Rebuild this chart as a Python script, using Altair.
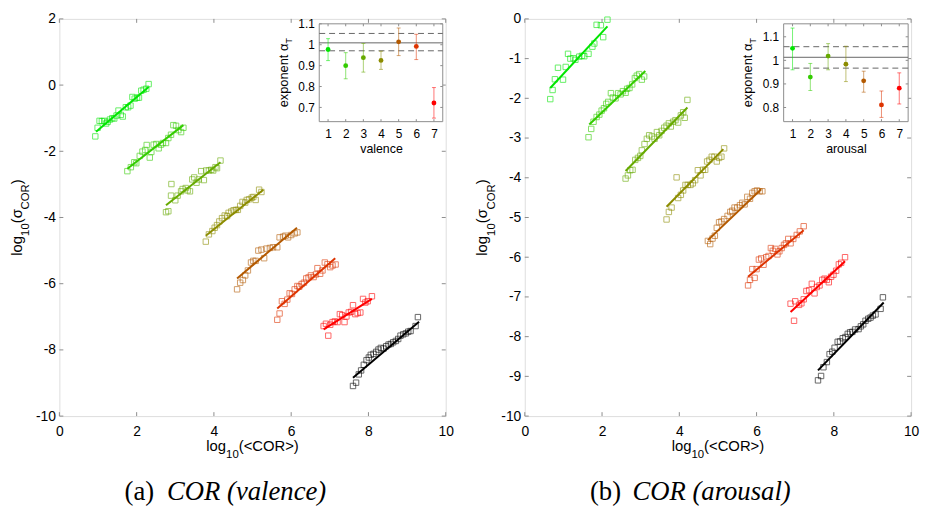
import altair as alt
import pandas as pd

# ---------------- left panel: valence ----------------
val_x1 = [0.93, 0.99, 1.04, 1.10, 1.16, 1.21, 1.25, 1.31, 1.37, 1.42, 1.48, 1.53, 1.59, 1.64, 1.72, 1.78, 1.84, 1.89, 1.95, 2.01, 2.06, 2.12, 2.18, 2.25, 2.31]
val_y1 = [-1.55, -1.29, -1.08, -1.09, -1.08, -1.16, -1.11, -1.04, -1.00, -1.01, -0.92, -0.77, -0.90, -0.95, -0.67, -0.67, -0.62, -0.36, -0.41, -0.38, -0.38, -0.17, -0.14, -0.11, 0.03]
val_x2 = [1.76, 1.85, 1.94, 1.99, 2.08, 2.15, 2.22, 2.26, 2.34, 2.38, 2.44, 2.51, 2.57, 2.63, 2.68, 2.76, 2.82, 2.89, 2.95, 3.02, 3.08, 3.15, 3.21]
val_y2 = [-2.60, -2.48, -2.33, -2.36, -2.14, -2.01, -1.96, -1.81, -2.19, -2.02, -1.80, -1.78, -1.91, -1.80, -1.75, -1.75, -1.60, -1.50, -1.21, -1.23, -1.36, -1.42, -1.29]
val_x3 = [2.76, 2.82, 2.89, 2.90, 3.00, 3.06, 3.15, 3.19, 3.27, 3.32, 3.38, 3.44, 3.49, 3.55, 3.61, 3.67, 3.74, 3.80, 3.87, 3.93, 3.98, 4.04, 4.08, 4.17]
val_y3 = [-3.84, -3.81, -3.34, -2.99, -3.48, -3.34, -3.21, -3.14, -3.11, -3.18, -3.21, -2.85, -2.79, -2.95, -2.85, -2.60, -2.87, -2.58, -2.58, -2.56, -2.58, -2.48, -2.51, -2.28]
val_x4 = [3.79, 3.87, 3.96, 4.02, 4.08, 4.14, 4.21, 4.28, 4.34, 4.38, 4.45, 4.51, 4.57, 4.62, 4.68, 4.74, 4.81, 4.85, 4.91, 4.98, 5.02, 5.08, 5.17, 5.23]
val_y4 = [-4.73, -4.51, -4.41, -4.31, -4.23, -4.12, -4.02, -3.94, -3.96, -3.86, -3.82, -3.78, -3.77, -3.77, -3.65, -3.53, -3.55, -3.47, -3.45, -3.40, -3.38, -3.47, -3.16, -3.23]
val_x5 = [4.60, 4.68, 4.75, 4.81, 4.88, 4.96, 5.02, 5.08, 5.15, 5.23, 5.30, 5.36, 5.45, 5.53, 5.64, 5.70, 5.79, 5.85, 5.92, 6.00, 6.09, 6.16]
val_y5 = [-6.17, -5.97, -5.89, -5.75, -5.60, -5.36, -5.31, -5.31, -5.00, -4.97, -5.23, -4.94, -4.92, -4.90, -4.90, -4.60, -4.58, -4.55, -4.60, -4.53, -4.48, -4.45]
val_x6 = [5.64, 5.70, 5.76, 5.83, 5.90, 5.96, 6.02, 6.09, 6.16, 6.21, 6.27, 6.33, 6.39, 6.45, 6.51, 6.58, 6.64, 6.68, 6.75, 6.81, 6.87, 6.94, 7.01, 7.07, 7.15]
val_y6 = [-7.09, -6.90, -6.53, -6.61, -6.48, -6.29, -6.31, -6.17, -6.07, -6.09, -6.01, -5.97, -5.84, -5.81, -5.75, -5.80, -5.72, -5.53, -5.70, -5.60, -5.36, -5.41, -5.50, -5.45, -5.42]
val_x7 = [6.84, 6.90, 6.96, 7.01, 7.07, 7.13, 7.20, 7.26, 7.32, 7.38, 7.43, 7.49, 7.55, 7.60, 7.66, 7.72, 7.79, 7.86, 7.92, 7.98, 8.09]
val_y7 = [-7.28, -7.21, -7.57, -7.24, -7.16, -7.14, -7.16, -6.92, -6.95, -7.16, -6.99, -6.87, -6.85, -6.65, -6.92, -6.89, -6.87, -6.46, -6.57, -6.53, -6.38]
val_x8 = [7.60, 7.68, 7.75, 7.81, 7.88, 7.95, 8.01, 8.06, 8.13, 8.20, 8.26, 8.32, 8.39, 8.46, 8.52, 8.58, 8.64, 8.71, 8.77, 8.83, 8.90, 8.97, 9.03, 9.09, 9.22, 9.28]
val_y8 = [-9.09, -8.99, -8.74, -8.62, -8.45, -8.31, -8.23, -8.15, -8.12, -8.06, -7.99, -7.94, -7.96, -7.89, -7.84, -7.82, -7.77, -7.73, -7.67, -7.57, -7.53, -7.50, -7.45, -7.43, -7.28, -7.01]

val_fit_x0 = [0.95, 1.76, 2.76, 3.79, 4.60, 5.64, 6.84, 7.60]
val_fit_y0 = [-1.41, -2.53, -3.63, -4.55, -5.84, -6.75, -7.38, -8.84]
val_fit_x1 = [2.31, 3.21, 4.17, 5.28, 6.15, 7.14, 8.09, 9.31]
val_fit_y1 = [-0.06, -1.21, -2.33, -3.16, -4.31, -5.23, -6.46, -7.15]

val_alpha = [0.977, 0.900, 0.938, 0.925, 1.014, 0.992, 0.721]
val_alpha_lo = [0.924, 0.837, 0.869, 0.882, 0.948, 0.929, 0.649]
val_alpha_hi = [1.029, 0.962, 1.006, 0.969, 1.080, 1.050, 0.795]
val_ref = [1.009, 1.054, 0.971]

# ---------------- right panel: arousal ----------------
aro_x1 = [0.66, 0.72, 0.78, 0.86, 0.99, 1.06, 1.12, 1.18, 1.26, 1.31, 1.41, 1.48, 1.54, 1.65, 1.75, 1.80, 1.86, 1.97, 2.03, 2.14]
aro_y1 = [-2.02, -1.79, -1.52, -1.23, -1.53, -1.21, -0.88, -1.00, -0.99, -1.03, -0.95, -0.93, -0.94, -0.88, -0.70, -0.62, -0.15, -0.16, -0.46, -0.02]
aro_x2 = [1.65, 1.72, 1.78, 1.86, 1.93, 1.99, 2.05, 2.11, 2.16, 2.23, 2.28, 2.35, 2.42, 2.48, 2.54, 2.61, 2.65, 2.71, 2.78, 2.85, 2.90, 2.96, 3.03, 3.09]
aro_y2 = [-2.98, -2.77, -2.59, -2.47, -2.41, -2.31, -2.25, -2.14, -2.09, -1.87, -1.98, -2.00, -1.87, -1.90, -1.82, -1.86, -1.76, -1.74, -1.65, -1.49, -1.43, -1.39, -1.53, -1.45]
aro_x3 = [2.61, 2.67, 2.73, 2.79, 2.86, 2.93, 2.99, 3.03, 3.10, 3.16, 3.22, 3.29, 3.36, 3.42, 3.48, 3.54, 3.61, 3.67, 3.73, 3.78, 3.84, 3.90, 3.97, 4.04, 4.10, 4.14, 4.21]
aro_y3 = [-4.02, -3.94, -3.81, -3.80, -3.55, -3.50, -3.45, -3.31, -3.15, -3.02, -2.93, -2.96, -3.02, -2.85, -2.93, -2.82, -2.74, -2.69, -2.63, -2.71, -2.59, -2.55, -2.61, -2.43, -2.35, -2.49, -2.04]
aro_x4 = [3.67, 3.73, 3.80, 3.93, 3.97, 4.04, 4.10, 4.16, 4.22, 4.29, 4.35, 4.41, 4.48, 4.55, 4.61, 4.67, 4.72, 4.78, 4.84, 4.91, 4.97, 5.03, 5.09, 5.16]
aro_y4 = [-5.05, -4.86, -4.75, -3.99, -4.51, -4.43, -4.32, -4.18, -4.18, -4.18, -4.14, -4.06, -3.81, -3.94, -3.80, -3.80, -3.59, -3.55, -3.47, -3.47, -3.59, -3.50, -3.47, -3.26]
aro_x5 = [4.74, 4.80, 4.86, 4.92, 4.97, 5.03, 5.09, 5.16, 5.25, 5.32, 5.37, 5.43, 5.50, 5.57, 5.63, 5.69, 5.76, 5.83, 5.89, 5.95, 6.01, 6.08, 6.15]
aro_y5 = [-5.59, -5.67, -5.53, -5.46, -5.26, -5.12, -5.10, -5.04, -4.96, -4.86, -4.83, -4.75, -4.75, -4.69, -4.63, -4.67, -4.48, -4.53, -4.38, -4.34, -4.32, -4.34, -4.34]
aro_x6 = [5.78, 5.83, 5.89, 5.95, 6.00, 6.06, 6.12, 6.18, 6.25, 6.31, 6.37, 6.42, 6.48, 6.54, 6.59, 6.65, 6.71, 6.76, 6.82, 6.88, 6.95, 7.04, 7.12, 7.22]
aro_y6 = [-6.71, -6.57, -6.30, -6.52, -6.30, -6.06, -6.03, -6.19, -6.00, -5.97, -5.77, -5.84, -5.79, -5.93, -5.85, -5.77, -5.69, -5.65, -5.54, -5.65, -5.54, -5.44, -5.35, -5.22]
aro_x7 = [6.88, 6.97, 7.00, 7.10, 7.16, 7.22, 7.29, 7.36, 7.43, 7.50, 7.56, 7.63, 7.70, 7.76, 7.82, 7.87, 7.93, 7.99, 8.06, 8.13, 8.19, 8.29]
aro_y7 = [-7.17, -7.60, -7.11, -7.20, -7.16, -7.06, -6.85, -6.83, -6.67, -6.91, -6.75, -6.71, -6.57, -6.54, -6.57, -6.63, -6.49, -6.44, -6.34, -6.18, -6.14, -6.00]
aro_x8 = [7.59, 7.67, 7.73, 7.82, 7.89, 7.96, 8.02, 8.10, 8.16, 8.23, 8.30, 8.36, 8.42, 8.48, 8.55, 8.64, 8.70, 8.76, 8.82, 8.89, 8.95, 9.01, 9.08, 9.21, 9.27]
aro_y8 = [-9.10, -8.99, -8.77, -8.64, -8.44, -8.38, -8.28, -8.13, -8.12, -8.04, -8.01, -7.93, -7.89, -7.88, -7.82, -7.81, -7.74, -7.69, -7.60, -7.55, -7.52, -7.47, -7.44, -7.30, -7.01]

aro_fit_x0 = [0.66, 1.67, 2.61, 3.67, 4.74, 5.78, 6.88, 7.59]
aro_fit_y0 = [-1.74, -2.66, -3.83, -4.73, -5.57, -6.49, -7.38, -8.85]
aro_fit_x1 = [2.14, 3.12, 4.21, 5.14, 6.12, 7.22, 8.29, 9.29]
aro_fit_y1 = [-0.19, -1.31, -2.23, -3.28, -4.29, -5.32, -6.10, -7.14]

aro_alpha = [1.051, 0.929, 1.018, 0.984, 0.913, 0.811, 0.882]
aro_alpha_lo = [0.960, 0.872, 0.960, 0.910, 0.865, 0.758, 0.815]
aro_alpha_hi = [1.137, 0.987, 1.071, 1.060, 0.954, 0.870, 0.947]
aro_ref = [1.013, 1.058, 0.967]

# ---------------- ticks / levels ----------------
levels = [1, 2, 3, 4, 5, 6, 7]
main_xticks = [0, 2, 4, 6, 8, 10]
val_yticks = [-10, -8, -6, -4, -2, 0, 2]
aro_yticks = [-10, -9, -8, -7, -6, -5, -4, -3, -2, -1, 0]
val_inset_yticks = [0.7, 0.8, 0.9, 1, 1.1]
aro_inset_yticks = [0.8, 0.9, 1, 1.1]
val_inset_ydom = [0.632, 1.1]
aro_inset_ydom = [0.74, 1.155]

# ---------------- style / layout ----------------
W, H = 391, 402
FONT = "Liberation Sans"
SERIF = "Liberation Serif"
FRAME = "#8c8c8c"
GROUPS = [str(i) for i in range(1, 9)]
COLORS = ["#00e600", "#33cc00", "#66aa00", "#8c8c00", "#b35900", "#dd3300", "#ff0000", "#000000"]
one = pd.DataFrame({"k": [0]})
color = alt.Color("g:N", scale=alt.Scale(domain=GROUPS, range=COLORS), legend=None)


def piece(s, x, y, size, angle=0, style="normal", font=FONT):
    return alt.Chart(one).mark_text(
        text=s, font=font, fontSize=size, angle=angle, fontStyle=style,
        align="left", baseline="alphabetic", color="black"
    ).encode(x=alt.value(x), y=alt.value(y))


def panel(xs, ys, fx0, fy0, fx1, fy1, ydom, yticks, alpha, lo, hi, ref,
          idom, iyticks, ititle, letter, ctext, ipx, ipy):
    # ---- main scatter and fits
    rows = []
    for gi, (gx, gy) in enumerate(zip(xs, ys)):
        for a, b in zip(gx, gy):
            rows.append({"x": a, "y": b, "g": GROUPS[gi]})
    sdf = pd.DataFrame(rows)
    frows = []
    for gi in range(8):
        frows.append({"x": fx0[gi], "y": fy0[gi], "g": GROUPS[gi]})
        frows.append({"x": fx1[gi], "y": fy1[gi], "g": GROUPS[gi]})
    fdf = pd.DataFrame(frows)

    xsc = alt.Scale(domain=[0, 10], nice=False, zero=False)
    ysc = alt.Scale(domain=ydom, nice=False, zero=False)
    common = dict(title=None, ticks=False, tickSize=0, domain=False, grid=False,
                  labelFont=FONT, labelFontSize=14, labelColor="black",
                  labelFlush=False, labelOverlap=False, labelExpr="'' + datum.value")
    xa = alt.Axis(values=main_xticks, labelPadding=9, **common)
    ya = alt.Axis(values=yticks, labelPadding=4, **common)

    def MX(f):
        return alt.X(f, type="quantitative", scale=xsc, axis=xa)

    def MY(f):
        return alt.Y(f, type="quantitative", scale=ysc, axis=ya)

    sq = alt.Chart(sdf).mark_point(shape="square", filled=False, size=30,
                                   strokeWidth=1, opacity=0.6).encode(x=MX("x"), y=MY("y"), color=color)
    fit = alt.Chart(fdf).mark_line(strokeWidth=2).encode(x=MX("x"), y=MY("y"), color=color)

    tx = 4 * 10 / W
    ty = 4 * (ydom[1] - ydom[0]) / H
    trows = []
    for t in yticks:
        trows.append({"x": 0, "x2": tx, "y": t, "y2": t})
        trows.append({"x": 10 - tx, "x2": 10, "y": t, "y2": t})
    for t in main_xticks:
        trows.append({"x": t, "x2": t, "y": ydom[0], "y2": ydom[0] + ty})
        trows.append({"x": t, "x2": t, "y": ydom[1] - ty, "y2": ydom[1]})
    ticks = alt.Chart(pd.DataFrame(trows)).mark_rule(color=FRAME, strokeWidth=1).encode(
        x=MX("x"), x2="x2", y=MY("y"), y2="y2")

    # ---- titles made of text pieces (for subscripts)
    texts = []
    # y title: log10(sigma_COR), rotated
    ws = [15 * 1.334, 11.5 * 1.112, 15 * 0.933, 11.5 * 2.222, 15 * 0.333]
    start = H / 2 + sum(ws) / 2
    specs = [("log", 15, -38), ("10", 11.5, -30.5), ("(σ", 15, -38), ("COR", 11.5, -30.5), (")", 15, -38)]
    pos = start
    for (s, sz, bx), w in zip(specs, ws):
        texts.append(piece(s, bx, pos, sz, angle=270))
        pos -= w
    # x title: log10(<COR>)
    wx = [15 * 1.334, 11.5 * 1.112, 15 * 4.056]
    px = W / 2 - sum(wx) / 2
    for (s, sz, by), w in zip([("log", 15, H + 35), ("10", 11.5, H + 42.5), ("(<COR>)", 15, H + 35)], wx):
        texts.append(piece(s, px, by, sz))
        px += w
    # inset y title: exponent alpha_T
    iyc = (ipy[0] + ipy[1]) / 2
    wi = [13 * 4.97, 9 * 0.611]
    ist = iyc + sum(wi) / 2
    texts.append(piece("exponent α", ipx[0] - 32, ist, 13, angle=270))
    texts.append(piece("T", ipx[0] - 27.5, ist - wi[0], 9, angle=270))
    # caption
    texts.append(piece(letter, 66, H + 84.5, 27, font=SERIF))
    texts.append(piece(ctext, 109, H + 84.5, 27, style="italic", font=SERIF))

    main = alt.layer(sq, fit, ticks, *texts)

    # ---- inset
    ixsc = alt.Scale(domain=[0.5, 7.5], range=[ipx[0], ipx[1]], nice=False, zero=False)
    iysc = alt.Scale(domain=idom, range=[ipy[1], ipy[0]], nice=False, zero=False)
    icommon = dict(ticks=False, tickSize=0, domain=False, grid=False,
                   labelFont=FONT, labelFontSize=12, labelColor="black",
                   labelFlush=False, labelOverlap=False)
    ixa = alt.Axis(values=levels, orient="bottom", offset=ipy[1] - H, title=ititle,
                   titleFont=FONT, titleFontSize=12.5, titleFontWeight="normal",
                   titleColor="black", titlePadding=3, labelPadding=7, **icommon)
    iya = alt.Axis(values=iyticks, orient="left", offset=-ipx[0], title=None,
                   labelPadding=5, labelExpr="'' + datum.value", **icommon)

    def IX(f):
        return alt.X(f, type="quantitative", scale=ixsc, axis=ixa)

    def IY(f):
        return alt.Y(f, type="quantitative", scale=iysc, axis=iya)

    frame = alt.Chart(pd.DataFrame({"x": [0.5], "x2": [7.5], "y": [idom[0]], "y2": [idom[1]]})).mark_rect(
        fill="white", stroke=FRAME, strokeWidth=1).encode(x=IX("x"), x2="x2", y=IY("y"), y2="y2")

    itx = 2.5 * 7 / (ipx[1] - ipx[0])
    ity = 2.5 * (idom[1] - idom[0]) / (ipy[1] - ipy[0])
    irows = []
    for t in iyticks:
        irows.append({"x": 0.5, "x2": 0.5 + itx, "y": t, "y2": t})
        irows.append({"x": 7.5 - itx, "x2": 7.5, "y": t, "y2": t})
    for t in levels:
        irows.append({"x": t, "x2": t, "y": idom[0], "y2": idom[0] + ity})
        irows.append({"x": t, "x2": t, "y": idom[1] - ity, "y2": idom[1]})
    iticks = alt.Chart(pd.DataFrame(irows)).mark_rule(color=FRAME, strokeWidth=1).encode(
        x=IX("x"), x2="x2", y=IY("y"), y2="y2")

    solid = alt.Chart(pd.DataFrame({"x": [0.5], "x2": [7.5], "y": [ref[0]]})).mark_rule(
        color="#666666", strokeWidth=1).encode(x=IX("x"), x2="x2", y=IY("y"))
    dashed = alt.Chart(pd.DataFrame({"x": [0.5, 0.5], "x2": [7.5, 7.5], "y": ref[1:]})).mark_rule(
        color="#666666", strokeWidth=1, strokeDash=[6, 4]).encode(x=IX("x"), x2="x2", y=IY("y"))

    edf = pd.DataFrame({"v": levels, "a": alpha, "lo": lo, "hi": hi, "g": GROUPS[:7]})
    bars = alt.Chart(edf).mark_rule(strokeWidth=1, opacity=0.55).encode(
        x=IX("v"), y=IY("lo"), y2="hi", color=color)
    cap_lo = alt.Chart(edf).mark_tick(orient="horizontal", size=4, thickness=1, opacity=0.55).encode(
        x=IX("v"), y=IY("lo"), color=color)
    cap_hi = alt.Chart(edf).mark_tick(orient="horizontal", size=4, thickness=1, opacity=0.55).encode(
        x=IX("v"), y=IY("hi"), color=color)
    pts = alt.Chart(edf).mark_circle(size=24, opacity=1).encode(x=IX("v"), y=IY("a"), color=color)

    inset = alt.layer(frame, iticks, solid, dashed, bars, cap_lo, cap_hi, pts)

    return alt.layer(main, inset).resolve_scale(x="independent", y="independent").properties(
        width=W, height=H)


PT = 15
left = panel(
    [val_x1, val_x2, val_x3, val_x4, val_x5, val_x6, val_x7, val_x8],
    [val_y1, val_y2, val_y3, val_y4, val_y5, val_y6, val_y7, val_y8],
    val_fit_x0, val_fit_y0, val_fit_x1, val_fit_y1,
    [-10, 2], val_yticks, val_alpha, val_alpha_lo, val_alpha_hi, val_ref,
    val_inset_ydom, val_inset_yticks, "valence", "(a)", "COR (valence)",
    (322 - 59, 447 - 59), (20 - PT, 119 - PT))

right = panel(
    [aro_x1, aro_x2, aro_x3, aro_x4, aro_x5, aro_x6, aro_x7, aro_x8],
    [aro_y1, aro_y2, aro_y3, aro_y4, aro_y5, aro_y6, aro_y7, aro_y8],
    aro_fit_x0, aro_fit_y0, aro_fit_x1, aro_fit_y1,
    [-10, 0], aro_yticks, aro_alpha, aro_alpha_lo, aro_alpha_hi, aro_ref,
    aro_inset_ydom, aro_inset_yticks, "arousal", "(b)", "COR (arousal)",
    (790 - 528, 916 - 528), (20 - PT, 119 - PT))

chart = alt.hconcat(left, right, spacing=20).properties(
    padding={"left": 1, "top": 0, "right": 0, "bottom": 0}
).configure_view(stroke=FRAME, strokeWidth=1).configure(font=FONT)

chart.save("out.html", embed_options={"renderer": "svg", "actions": False})
